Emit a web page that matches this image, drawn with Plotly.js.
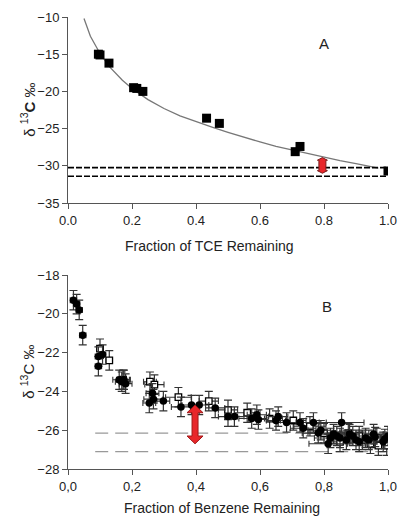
<!DOCTYPE html>
<html><head><meta charset="utf-8">
<script src="https://cdn.plot.ly/plotly-3.0.1.min.js"></script>
<style>html,body{margin:0;padding:0;background:#fff}#c{width:398px;height:519px}</style>
</head><body><div id="c"></div>
<script>
// Panel A: TCE
const tceFrac = [0.095,0.10,0.128,0.205,0.215,0.234,0.433,0.473,0.71,0.725,1.0];
const tceDelta = [-15.0,-15.1,-16.2,-19.5,-19.6,-20.0,-23.6,-24.3,-28.1,-27.4,-30.7];
const curveX = [0.05,0.07,0.1,0.13,0.17,0.2,0.25,0.3,0.35,0.4,0.45,0.5,0.55,0.6,0.65,0.7,0.75,0.8,0.85,0.9,0.95,0.97];
const curveY = [-10.2,-12.6,-14.9,-16.7,-18.5,-19.6,-21.1,-22.3,-23.3,-24.1,-24.8,-25.5,-26.2,-26.8,-27.4,-27.9,-28.4,-28.9,-29.3,-29.7,-30.1,-30.3];
const tceLineX = [0, 0.995];
const tceLineUpper = -30.25;
const tceLineLower = -31.4;
const tceArrowX = 0.795, tceArrowTop = -28.9, tceArrowBottom = -31.0;
const tceTicks = [0.0,0.2,0.4,0.6,0.8,1.0];
const tceTickText = ["0.0","0.2","0.4","0.6","0.8","1.0"];

// Panel B: Benzene
const bzFilledX = [0.017,0.027,0.035,0.046,0.095,0.095,0.108,0.16,0.168,0.175,0.18,0.254,0.267,0.264,0.298,0.353,0.386,0.41,0.46,0.50,0.52,0.574,0.59,0.595,0.65,0.657,0.683,0.725,0.735,0.767,0.79,0.782,0.813,0.82,0.83,0.855,0.85,0.87,0.89,0.91,0.93,0.955,0.985,1.0,0.84,0.88,0.90,0.94,0.96,0.99];
const bzFilledY = [-19.3,-19.5,-19.8,-21.1,-22.2,-22.7,-22.1,-23.4,-23.5,-23.4,-23.6,-24.6,-24.4,-24.1,-24.5,-24.8,-24.7,-24.7,-24.85,-25.3,-25.3,-25.4,-25.2,-25.45,-25.5,-25.3,-25.6,-25.6,-25.9,-25.6,-26.0,-26.15,-26.7,-26.4,-26.2,-25.6,-26.4,-26.5,-26.3,-26.6,-26.4,-26.2,-26.6,-26.3,-26.3,-26.2,-26.5,-26.5,-26.35,-26.45];
const bzFilledXerr = [0.01,0.01,0.01,0.01,0.01,0.01,0.01,0.02,0.02,0.02,0.02,0.02,0.03,0.02,0.02,0.03,0.03,0.03,0.03,0.03,0.03,0.04,0.03,0.03,0.03,0.03,0.03,0.04,0.04,0.04,0.04,0.05,0.06,0.05,0.05,0.07,0.04,0.04,0.04,0.04,0.03,0.03,0.02,0.01,0.03,0.03,0.02,0.02,0.02,0.01];
const bzOpenX = [0.10,0.129,0.172,0.256,0.27,0.345,0.44,0.50,0.56,0.63,0.704,0.756,0.80,0.876,0.92,0.965,0.97,0.996,0.85,0.91,0.945];
const bzOpenY = [-21.8,-22.4,-23.4,-23.5,-23.65,-24.3,-24.5,-24.95,-25.1,-25.4,-25.5,-25.8,-26.15,-26.15,-26.5,-26.4,-26.8,-26.8,-26.6,-26.3,-26.7];
const bzOpenXerr = [0.01,0.01,0.02,0.02,0.03,0.04,0.03,0.03,0.04,0.04,0.04,0.05,0.05,0.04,0.03,0.03,0.02,0.01,0.03,0.02,0.02];
const bzYerr = 0.5;
const bzLineX = [0.085, 0.99];
const bzLineUpper = -26.15;
const bzLineLower = -27.1;
const bzArrowX = 0.397, bzArrowTop = -24.7, bzArrowBottom = -26.7;
const bzTicks = [0.0,0.2,0.4,0.6,0.8,1.0];
const bzTickText = ["0,0","0,2","0,4","0,6","0,8","1,0"];

function arrowPath(y1, y2, shaftHalf, headHalf, headLen){
  // x in pixels relative to anchor, y in data units
  const t = y1, b = y2;
  return `M0,${t} L${headHalf},${t-headLen} L${shaftHalf},${t-headLen} L${shaftHalf},${b+headLen} L${headHalf},${b+headLen} L0,${b} L${-headHalf},${b+headLen} L${-shaftHalf},${b+headLen} L${-shaftHalf},${t-headLen} L${-headHalf},${t-headLen} Z`;
}

const font = {family:'"Liberation Sans", Arial, sans-serif', size:13, color:'#222'};

const traces = [
  {x:curveX, y:curveY, mode:'lines', line:{color:'#777', width:1.3}, xaxis:'x', yaxis:'y', hoverinfo:'skip'},
  {x:tceLineX, y:tceLineX.map(()=>tceLineUpper), mode:'lines', line:{color:'#000', width:1.6, dash:'6px,2px'}, xaxis:'x', yaxis:'y'},
  {x:tceLineX, y:tceLineX.map(()=>tceLineLower), mode:'lines', line:{color:'#000', width:1.6, dash:'6px,2px'}, xaxis:'x', yaxis:'y'},
  {x:tceFrac, y:tceDelta, mode:'markers', marker:{symbol:'square', size:9, color:'#000'}, xaxis:'x', yaxis:'y'},
  {x:bzLineX, y:bzLineX.map(()=>bzLineUpper), mode:'lines', line:{color:'#999', width:1.3, dash:'13px,7px'}, xaxis:'x2', yaxis:'y2'},
  {x:bzLineX, y:bzLineX.map(()=>bzLineLower), mode:'lines', line:{color:'#999', width:1.3, dash:'13px,7px'}, xaxis:'x2', yaxis:'y2'},
  {x:bzOpenX, y:bzOpenY, mode:'markers', marker:{symbol:'square', size:6.5, color:'#fff', line:{color:'#000', width:1.3}},
   error_y:{type:'constant', value:bzYerr, color:'#333', thickness:1.2, width:4},
   error_x:{type:'data', array:bzOpenXerr, color:'#333', thickness:1.1, width:3}, xaxis:'x2', yaxis:'y2'},
  {x:bzFilledX, y:bzFilledY, mode:'markers', marker:{symbol:'circle', size:7.5, color:'#000'},
   error_y:{type:'constant', value:bzYerr, color:'#333', thickness:1.2, width:4},
   error_x:{type:'data', array:bzFilledXerr, color:'#333', thickness:1.1, width:3}, xaxis:'x2', yaxis:'y2'}
];

const axBase = {showgrid:false, zeroline:false, showline:true, linecolor:'#555', linewidth:1, ticks:'outside', ticklen:5, tickcolor:'#555', tickfont:font};

const layout = {
  width:398, height:519, showlegend:false,
  paper_bgcolor:'#fff', plot_bgcolor:'#fff',
  margin:{l:68, r:10, t:17, b:50},
  font: font,
  xaxis: Object.assign({}, axBase, {domain:[0,1], anchor:'y', range:[0,1.0], tickvals:tceTicks, ticktext:tceTickText}),
  yaxis: Object.assign({}, axBase, {domain:[0.5885,1], anchor:'x', range:[-35,-10], dtick:5}),
  xaxis2: Object.assign({}, axBase, {domain:[0,1], anchor:'y2', range:[0,1.0], tickvals:bzTicks, ticktext:bzTickText}),
  yaxis2: Object.assign({}, axBase, {domain:[0,0.4292], anchor:'x2', range:[-28,-18], dtick:2}),
  shapes:[
    {type:'path', xref:'x', yref:'y', xsizemode:'pixel', xanchor:tceArrowX,
     path:arrowPath(tceArrowTop, tceArrowBottom, 3.5, 5, 0.35), fillcolor:'#e8262a', line:{color:'#7a1c1c', width:1}},
    {type:'path', xref:'x2', yref:'y2', xsizemode:'pixel', xanchor:bzArrowX,
     path:arrowPath(bzArrowTop, bzArrowBottom, 3, 8, 0.4), fillcolor:'#e8262a', line:{color:'#a01818', width:1}}
  ],
  annotations:[
    {text:'A', xref:'x', yref:'y', x:0.8, y:-13.5, showarrow:false, font:{family:font.family, size:15, color:'#222'}},
    {text:'B', xref:'x2', yref:'y2', x:0.81, y:-19.6, showarrow:false, font:{family:font.family, size:15, color:'#222'}},
    {text:'Fraction of TCE Remaining', xref:'paper', yref:'paper', x:0.5, xshift:-19, xanchor:'center', y:0.5885, yshift:-43, yanchor:'middle', showarrow:false, font:{family:font.family, size:14, color:'#222'}},
    {text:'Fraction of Benzene Remaining', xref:'paper', yref:'paper', x:0.5, xshift:-6, xanchor:'center', y:0, yshift:-39, yanchor:'middle', showarrow:false, font:{family:font.family, size:14, color:'#222'}},
    {text:'δ <sup>13</sup><b>C</b> ‰', xref:'paper', yref:'paper', x:0, xshift:-40, xanchor:'center', y:0.795, yanchor:'middle', textangle:-90, showarrow:false, font:{family:font.family, size:15, color:'#222'}},
    {text:'δ <sup>13</sup>C ‰', xref:'paper', yref:'paper', x:0, xshift:-40, xanchor:'center', y:0.215, yanchor:'middle', textangle:-90, showarrow:false, font:{family:font.family, size:15, color:'#222'}}
  ]
};

Plotly.newPlot('c', traces, layout, {staticPlot:true, displayModeBar:false});
</script>
</body></html>
